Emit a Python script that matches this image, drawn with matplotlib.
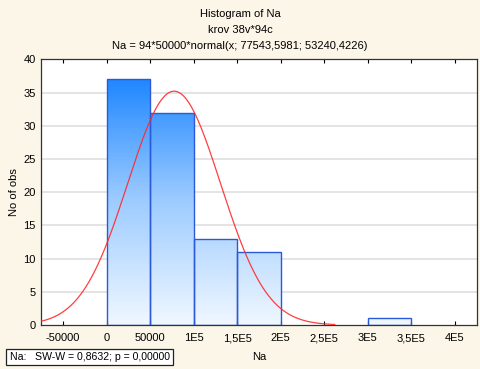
import numpy as np
import matplotlib.pyplot as plt
from matplotlib.colors import LinearSegmentedColormap

plt.rcParams["font.family"] = ["Liberation Sans", "DejaVu Sans"]

# histogram data
bin_left = [0, 50000, 100000, 150000, 300000]
bin_width = 50000
counts = [37, 32, 13, 11, 1]
n_obs = 94

# fitted normal (from title)
fit_mean = 77543.5981
fit_sd = 53240.4226

x_ticks = [-50000, 0, 50000, 100000, 150000, 200000, 250000, 300000, 350000, 400000]
x_tick_labels = ["-50000", "0", "50000", "1E5", "1,5E5", "2E5", "2,5E5", "3E5", "3,5E5", "4E5"]
y_ticks = [0, 5, 10, 15, 20, 25, 30, 35, 40]

fig = plt.figure(figsize=(4.8, 3.69), dpi=100, facecolor="#fcf6e8")
ax = fig.add_axes([0.086, 0.119, 0.907, 0.72])
ax.set_facecolor("white")

xmin, xmax = -75000, 425000
ax.set_xlim(xmin, xmax)
ax.set_ylim(0, 40)

# grid
for y in y_ticks[1:-1]:
    ax.axhline(y, color="#e2e2e2", lw=1.3, zorder=0)

# gradient bars
cmap = LinearSegmentedColormap.from_list("bars", ["#f0f7ff", "#9ccbff", "#1a84ff"])
top_val = 38.0
for x0, h in zip(bin_left, counts):
    grad = np.linspace(0, h / top_val, 100).reshape(-1, 1)
    im = ax.imshow(grad, cmap=cmap, vmin=0, vmax=1, origin="lower", aspect="auto",
                   extent=[x0, x0 + bin_width, 0, h], zorder=1)
    rect = plt.Rectangle((x0, 0), bin_width, h, facecolor="none",
                         edgecolor="#2a5ad8", lw=1.0, zorder=2)
    ax.add_patch(rect)
    im.set_clip_path(rect)
ax.set_xlim(xmin, xmax)
ax.set_ylim(0, 40)

# normal curve
xc = np.linspace(xmin, 262000, 400)
yc = n_obs * bin_width * np.exp(-0.5 * ((xc - fit_mean) / fit_sd) ** 2) / (fit_sd * np.sqrt(2 * np.pi))
ax.plot(xc, yc, color="#ff2a2a", lw=0.9, alpha=0.9, zorder=3)

ax.set_xticks(x_ticks)
ax.set_xticklabels(x_tick_labels, fontsize=8)
ax.set_yticks(y_ticks)
ax.set_yticklabels([str(v) for v in y_ticks], fontsize=8)
ax.tick_params(axis="x", direction="in", length=3, top=True, width=0.8, pad=6)
ax.tick_params(axis="y", length=0, pad=4)
for s in ax.spines.values():
    s.set_color("#333333")
    s.set_linewidth(0.9)

ax.set_xlabel("Na", fontsize=8, labelpad=6)
ax.set_ylabel("No of obs", fontsize=8, labelpad=3)

fig.text(0.5, 0.962, "Histogram of Na", ha="center", va="center", fontsize=8)
fig.text(0.5, 0.918, "krov 38v*94c", ha="center", va="center", fontsize=8)
fig.text(0.5, 0.876, "Na = 94*50000*normal(x; 77543,5981; 53240,4226)", ha="center", va="center", fontsize=8)

fig.text(0.02, 0.033, "Na:   SW-W = 0,8632; p = 0,00000", ha="left", va="center", fontsize=7.6,
         bbox=dict(boxstyle="square,pad=0.3", facecolor="white", edgecolor="#222222", lw=0.9))

fig.savefig("out.png", dpi=100, facecolor=fig.get_facecolor())
